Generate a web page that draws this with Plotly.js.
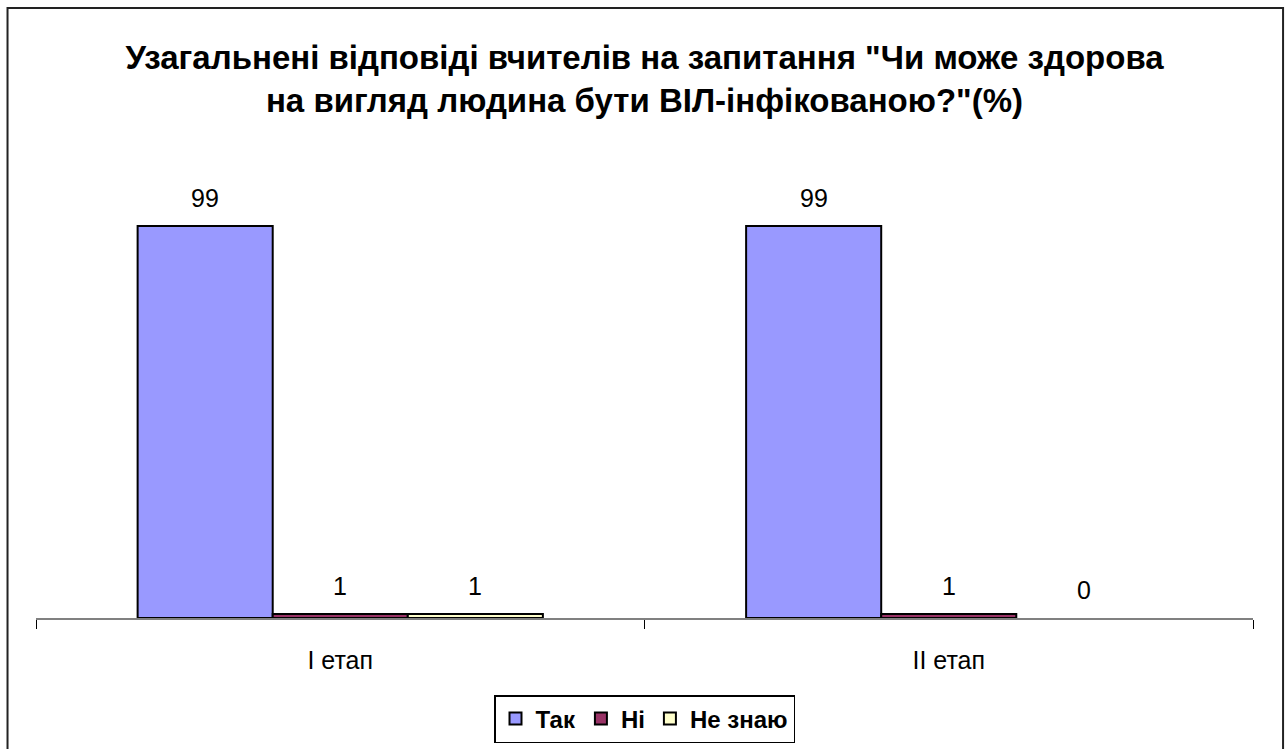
<!DOCTYPE html>
<html>
<head>
<meta charset="utf-8">
<script src="https://cdn.plot.ly/plotly-3.0.1.min.js"></script>
<style>
html,body{margin:0;padding:0;background:#fff;}
#chart{width:1288px;height:749px;}
</style>
</head>
<body>
<div id="chart"></div>
<script>
const categories = ["I етап", "II етап"];
const seriesNames = ["Так", "Ні", "Не знаю"];
const valuesTak = [99, 99];
const valuesNi = [1, 1];
const valuesNeZnayu = [1, 0];
const seriesValues = [valuesTak, valuesNi, valuesNeZnayu];
const seriesColors = ["#9999FF", "#993366", "#FFFFCC"];

const traces = seriesNames.map((name, i) => ({
  type: "bar",
  name: name,
  x: categories,
  y: seriesValues[i],
  marker: {color: seriesColors[i], line: {color: "#000000", width: seriesValues[i].map(v => v > 0 ? 2 : 0)}},
  hoverinfo: "none"
}));

const bargap = 0.334;
const barW = (1 - bargap) / seriesNames.length;
const annotations = [];
seriesValues.forEach((vals, i) => {
  vals.forEach((v, j) => {
    annotations.push({
      x: j + (i - (seriesNames.length - 1) / 2) * barW,
      y: v,
      xref: "x", yref: "y",
      text: String(v),
      showarrow: false,
      yanchor: "bottom",
      yshift: 12,
      font: {family: "Liberation Sans, Arial, sans-serif", size: 25, color: "#000"}
    });
  });
});

const layout = {
  width: 1288, height: 749,
  margin: {l: 36, r: 35, t: 222, b: 131},
  paper_bgcolor: "#ffffff",
  plot_bgcolor: "#ffffff",
  barmode: "group",
  bargap: bargap,
  bargroupgap: 0,
  title: {
    text: "<b>Узагальнені відповіді вчителів на запитання \"Чи може здорова<br>на вигляд людина бути ВІЛ-інфікованою?\"(%)</b>",
    x: 0.5, xref: "paper", xanchor: "center",
    y: 0.908, yref: "container", yanchor: "top",
    font: {family: "Liberation Sans, Arial, sans-serif", size: 33, color: "#000"}
  },
  xaxis: {
    type: "category",
    showline: true, linecolor: "#808080", linewidth: 1.5,
    ticks: "outside", tickson: "boundaries", ticklen: 9, tickcolor: "#000", tickwidth: 1,
    ticklabelstandoff: 19,
    tickfont: {family: "Liberation Sans, Arial, sans-serif", size: 25, color: "#000"},
    showgrid: false, zeroline: false, fixedrange: true, automargin: false
  },
  yaxis: {
    range: [0, 100], visible: false, showgrid: false, zeroline: false, fixedrange: true, automargin: false
  },
  showlegend: true,
  legend: {
    orientation: "h", x: 0.5, xref: "paper", xanchor: "center",
    y: 54 / 749, yref: "container", yanchor: "top",
    bordercolor: "#000", borderwidth: 1.5, bgcolor: "#fff",
    font: {family: "Liberation Sans, Arial, sans-serif", size: 24, color: "#000", weight: "bold"},
    itemwidth: 30
  },
  annotations: annotations,
  shapes: [{
    type: "rect", xref: "paper", yref: "paper",
    x0: -0.0234, x1: 1.0247, y0: -0.4, y1: 1.5404,
    line: {color: "#222", width: 2}
  }]
};

Plotly.newPlot("chart", traces, layout, {displayModeBar: false, staticPlot: true});
</script>
</body>
</html>
